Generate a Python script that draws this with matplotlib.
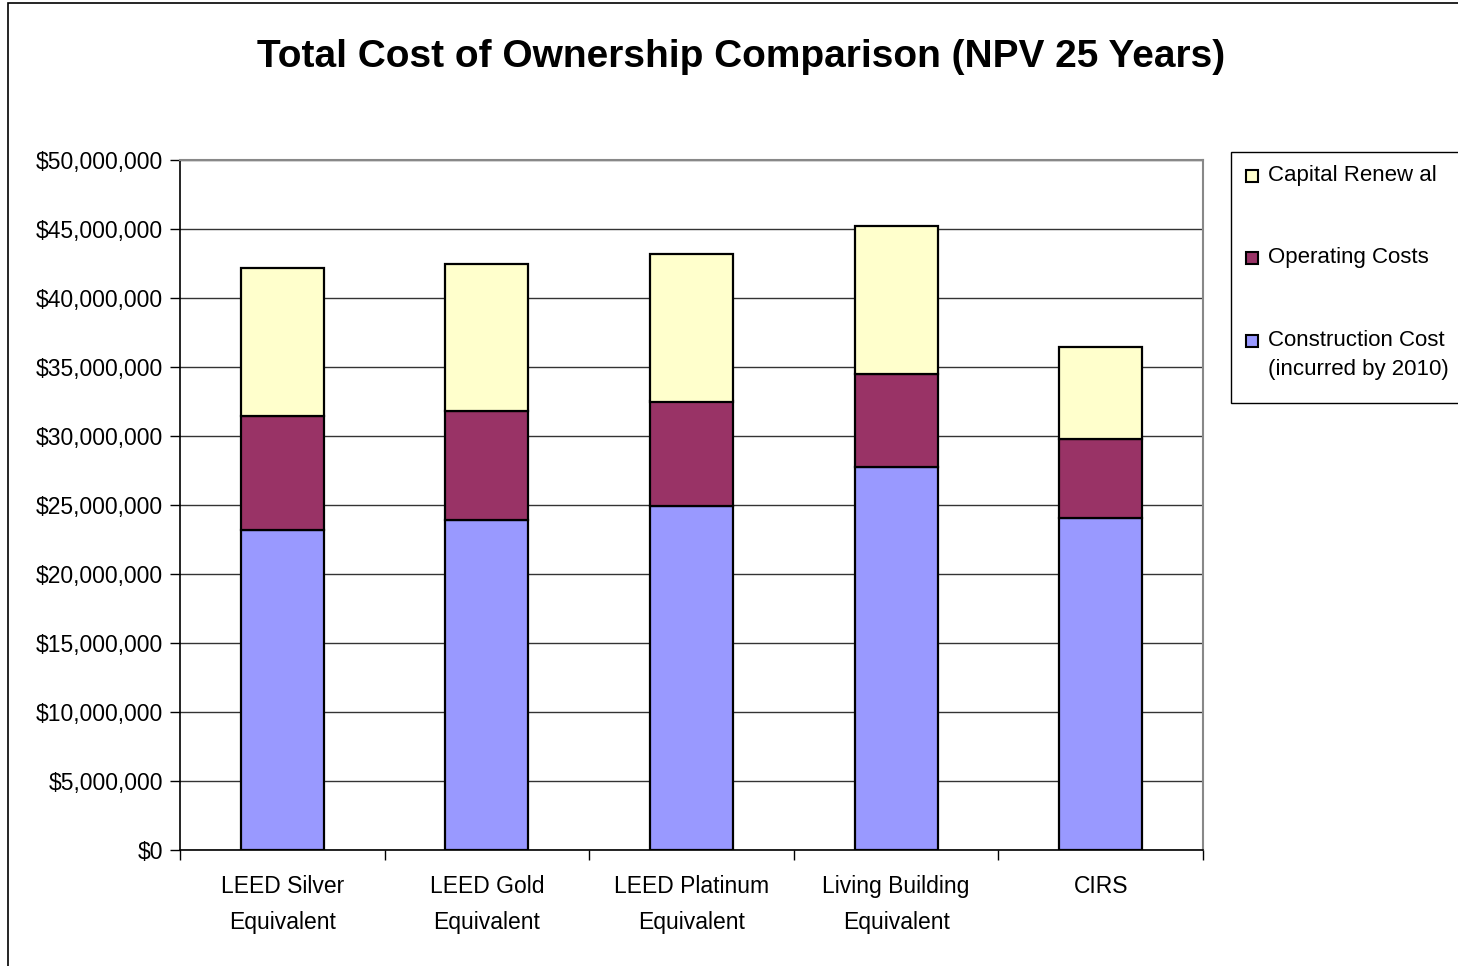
import matplotlib
matplotlib.use("Agg")
import matplotlib.pyplot as plt
from matplotlib.patches import Rectangle
from matplotlib.ticker import FuncFormatter, MultipleLocator

categories = ["LEED Silver\nEquivalent", "LEED Gold\nEquivalent", "LEED Platinum\nEquivalent",
              "Living Building\nEquivalent", "CIRS"]
construction = [23.2e6, 23.9e6, 24.9e6, 27.75e6, 24.05e6]
operating = [8.25e6, 7.9e6, 7.6e6, 6.75e6, 5.75e6]
capital_renewal = [10.7e6, 10.7e6, 10.7e6, 10.75e6, 6.65e6]
series_labels = ["Construction Cost\n(incurred by 2010)", "Operating Costs", "Capital Renew al"]
colors = ["#9999FF", "#993366", "#FFFFCC"]

plt.rcParams['font.family'] = ['Liberation Sans', 'DejaVu Sans']

fig = plt.figure(figsize=(14.58, 9.66), dpi=100)
ax = fig.add_axes([180/1458, 1-850/966, (1203-180)/1458, (850-160)/966])

x = list(range(len(categories)))
w = 0.405
ax.bar(x, construction, w, color=colors[0], edgecolor='black', linewidth=1.6, zorder=3)
bottom3 = [a + b for a, b in zip(construction, operating)]
ax.bar(x, operating, w, bottom=construction, color=colors[1], edgecolor='black', linewidth=1.6, zorder=3)
ax.bar(x, capital_renewal, w, bottom=bottom3, color=colors[2], edgecolor='black', linewidth=1.6, zorder=3)

ax.set_xlim(-0.5, len(categories) - 0.5)
ax.set_ylim(0, 50e6)
ax.yaxis.set_major_locator(MultipleLocator(5e6))
ax.yaxis.set_major_formatter(FuncFormatter(lambda v, p: "${:,.0f}".format(v)))
ax.grid(axis='y', color='#333333', linewidth=1.0, zorder=0)
ax.set_axisbelow(True)

ax.set_xticks(x)
ax.set_xticklabels(categories, fontsize=16.5, linespacing=1.7)
ax.tick_params(axis='x', length=0, pad=18)
ax.set_xticks([i + 0.5 for i in range(-1, len(categories))], minor=True)
ax.tick_params(axis='x', which='minor', length=7, width=1, color='black', direction='out')
ax.tick_params(axis='y', labelsize=16.5, length=7, width=1, direction='out', pad=5)

for s in ['left', 'bottom']:
    ax.spines[s].set_color('black')
    ax.spines[s].set_linewidth(1.2)
for s in ['top', 'right']:
    ax.spines[s].set_color('#888888')
    ax.spines[s].set_linewidth(1.5)

fig.text(741/1458, 1-57/966, "Total Cost of Ownership Comparison (NPV 25 Years)",
         ha='center', va='center', fontsize=28, fontweight='bold')

# Legend (drawn manually so the marker aligns with the first line of a two-line label)
W, H = 1458, 966
fig.patches.append(Rectangle((1231/W, 1-403/H), 0.5, (403-152)/H, transform=fig.transFigure,
                             facecolor='white', edgecolor='black', linewidth=1.0, zorder=5))
leg_items = [(series_labels[2], colors[2], 176), (series_labels[1], colors[1], 258),
             (series_labels[0], colors[0], 341)]
for label, col, yc in leg_items:
    fig.patches.append(Rectangle((1246/W, 1-(yc+6)/H), 12/W, 12/H, transform=fig.transFigure,
                                 facecolor=col, edgecolor='black', linewidth=1.5, zorder=6))
    fig.text(1268/W, 1-(yc-11)/H, label, ha='left', va='top', fontsize=16,
             linespacing=1.5, zorder=7)

frame = Rectangle((8/1458, -0.05), 2, 1 - 3/966 + 0.05, transform=fig.transFigure,
                  fill=False, edgecolor='black', linewidth=1.2)
fig.patches.append(frame)

fig.savefig("out.png", dpi=100)
